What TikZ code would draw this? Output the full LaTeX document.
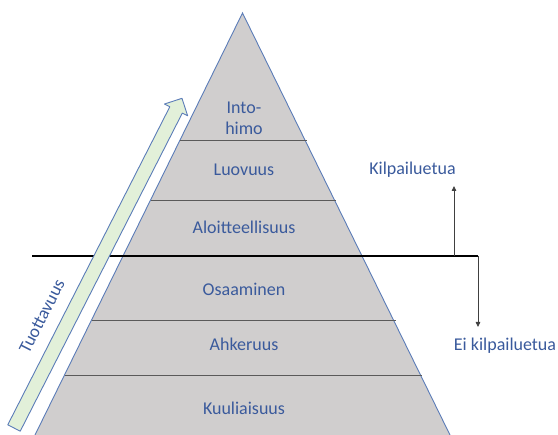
\documentclass[tikz,border=0pt]{standalone}
\usepackage{fontspec}
\setmainfont{Carlito}
\usetikzlibrary{arrows.meta,calc}
\definecolor{layerfill}{HTML}{D0CECE}
\definecolor{edgeblue}{HTML}{5B7CB8}
\definecolor{txtblue}{HTML}{3A5A9C}
\definecolor{arrowgreen}{HTML}{E2F0D9}
\definecolor{divider}{HTML}{5A5A5A}
\definecolor{pointer}{HTML}{404040}

\begin{document}
\begin{tikzpicture}[x=1pt,y=-1pt,
  lbl/.style={text=txtblue, font=\fontsize{18}{20.6}\selectfont,
    align=center, inner sep=0pt, text depth=0pt},
  divline/.style={draw=divider, line width=0.9pt},
  cutline/.style={draw=black, line width=2.6pt},
  pointerline/.style={draw=pointer, line width=0.8pt,
    -{Triangle[length=5pt,width=4.5pt]}},
  growth/.style={fill=arrowgreen, draw=edgeblue, line width=0.9pt, line join=round}]
\useasboundingbox (0,0) rectangle (558,435);

% pyramid body
\coordinate (apex) at (242.5,13);
\coordinate (baseL) at (35,435);
\coordinate (baseR) at (450,435);
\fill[layerfill] (apex) -- (baseL) -- (baseR) -- cycle;
\draw[edgeblue, line width=0.9pt] (baseL) -- (apex) -- (baseR);

% layer dividers
\draw[divline] (180.1,140) -- (307,140);
\draw[divline] (150.6,200) -- (336,200);
\draw[divline] (91.5,320) -- (396,320);
\draw[divline] (64.5,375) -- (422,375);

% competitive-advantage threshold
\coordinate (cutL) at (32,256);
\coordinate (cutR) at (478,256);
\coordinate (upfoot) at (454,256);
\coordinate (uptip) at (454,186);
\coordinate (downtip) at (478,327);
\draw[cutline] (cutL) -- (cutR);
\draw[pointerline] (upfoot) -- (uptip);
\draw[pointerline] (cutR) -- (downtip);

% layer names
\node[lbl] (l6) at (244,118) {Into-\\himo};
\node[lbl] (l5) at (244,170) {Luovuus};
\node[lbl] (l4) at (244,227) {Aloitteellisuus};
\node[lbl] (l3) at (244,289) {Osaaminen};
\node[lbl] (l2) at (244,344) {Ahkeruus};
\node[lbl] (l1) at (244,408) {Kuuliaisuus};

% side labels
\node[lbl] (kil) at (412.5,168) {Kilpailuetua};
\node[lbl] (eikil) at (505,344) {Ei kilpailuetua};

% productivity arrow
\begin{scope}[shift={(14,428)}, rotate=63]
  \draw[growth] (0,-7) -- (357,-7) -- (357,-13) -- (370,0) -- (357,13)
    -- (357,7) -- (0,7) -- cycle;
\end{scope}
\node[lbl, rotate=63] (tuot) at (42,316) {Tuottavuus};
\end{tikzpicture}
\end{document}
